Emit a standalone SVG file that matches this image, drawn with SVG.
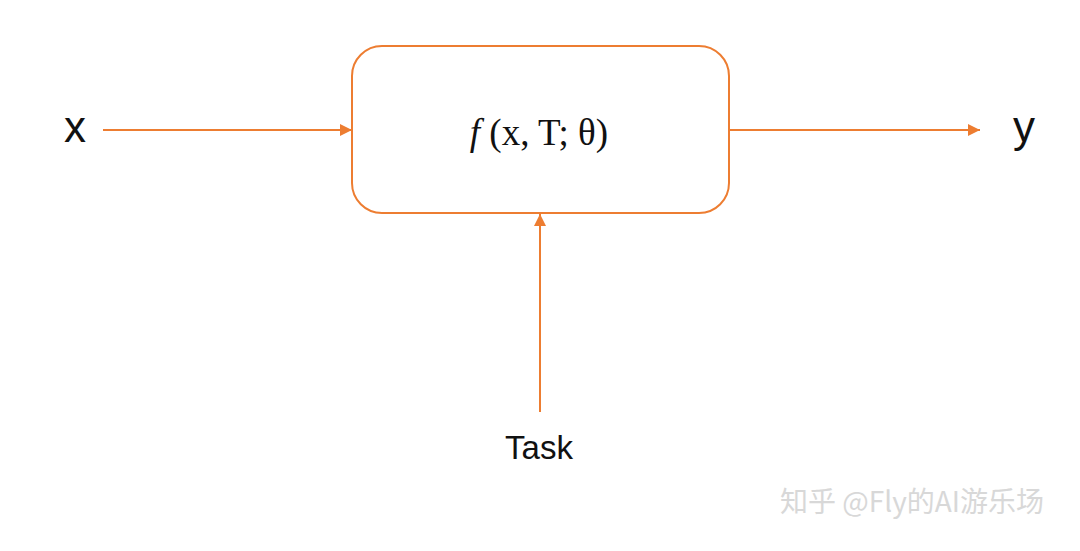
<svg xmlns="http://www.w3.org/2000/svg" width="1080" height="551" viewBox="0 0 1080 551">
<style>
.c{stroke:#ED7D31;stroke-width:2;fill:none}
.lbl{font-family:"Liberation Sans","Noto Sans",sans-serif;fill:#111}
.m{font-family:"Liberation Serif","DejaVu Serif",serif;fill:#111;font-size:37px}
</style>
<defs>
<marker id="ah" viewBox="0 0 10 10" refX="10" refY="5" markerWidth="12" markerHeight="12" markerUnits="userSpaceOnUse" orient="auto">
<path d="M0,0 L10,5 L0,10 z" fill="#ED7D31"/>
</marker>
</defs>
<rect width="1080" height="551" fill="#fff"/>
<g id="connectors">
<line class="c" x1="103" y1="130" x2="352" y2="130" marker-end="url(#ah)"/>
<line class="c" x1="729" y1="130" x2="980" y2="130" marker-end="url(#ah)"/>
<line class="c" x1="540" y1="412" x2="540" y2="214" marker-end="url(#ah)"/>
</g>
<g id="node-f">
<rect class="c" x="352" y="46" width="377" height="167" rx="30" ry="30"/>
<text class="m" x="539" y="145" text-anchor="middle"><tspan font-style="italic">f</tspan> (x, T; θ)</text>
</g>
<g id="node-x">
<text class="lbl" x="75" y="142" font-size="44" text-anchor="middle">x</text>
</g>
<g id="node-y">
<text class="lbl" x="1024" y="142" font-size="44" text-anchor="middle">y</text>
</g>
<g id="node-task">
<text class="lbl" x="539" y="459" font-size="33" text-anchor="middle">Task</text>
</g>
<g id="watermark">
<text x="780" y="512" font-family="'Noto Sans CJK SC',sans-serif" font-size="28" fill="#d8d8d8">知乎 @Fly的AI游乐场</text>
</g>
</svg>
